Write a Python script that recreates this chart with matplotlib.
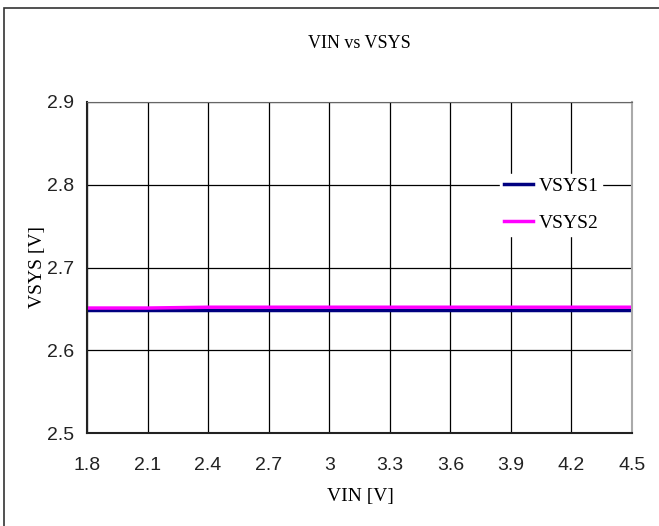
import matplotlib.pyplot as plt
from matplotlib.patches import Rectangle

# data
vin = [1.8, 2.1, 2.4, 2.7, 3.0, 3.3, 3.6, 3.9, 4.2, 4.5]
vsys1 = [2.649, 2.649, 2.649, 2.649, 2.649, 2.649, 2.649, 2.649, 2.649, 2.649]
vsys2 = [2.651, 2.651, 2.652, 2.652, 2.652, 2.652, 2.652, 2.652, 2.652, 2.652]
xticks = [1.8, 2.1, 2.4, 2.7, 3.0, 3.3, 3.6, 3.9, 4.2, 4.5]
xtick_labels = ['1.8', '2.1', '2.4', '2.7', '3', '3.3', '3.6', '3.9', '4.2', '4.5']
yticks = [2.5, 2.6, 2.7, 2.8, 2.9]


def drawFig():
  fig = plt.figure(figsize=(6.59, 5.26), dpi=100)
  ax = fig.add_axes([87/659, 1-433/526, (632-87)/659, (433-102)/526])

  # outer frame (only left and top edges show in the picture)
  fig.patches.append(Rectangle((4/659, -0.1), 1.2, 1-8/526+0.1, transform=fig.transFigure,
                               fill=False, edgecolor='#333333', linewidth=1.2))

  ax.plot(vin, vsys1, color='#000080', linewidth=2.5, label='VSYS1')
  ax.plot(vin, vsys2, color='#ff00ff', linewidth=2.5, label='VSYS2')

  ax.set_xlim(1.8, 4.5)
  ax.set_ylim(2.5, 2.9)
  ax.set_xticks(xticks)
  ax.set_xticklabels(xtick_labels)
  ax.set_yticks(yticks)
  ax.set_yticklabels(['%.1f' % v for v in yticks])
  ax.tick_params(length=0, labelsize=14)
  ax.tick_params(axis='x', pad=17)
  ax.tick_params(axis='y', pad=9)
  for lab in ax.get_xticklabels() + ax.get_yticklabels():
    lab.set_fontfamily('Liberation Sans')
    lab.set_color('#222222')
  ax.grid(True, color='black', linewidth=0.9)
  ax.set_axisbelow(True)
  for s in ['left', 'bottom']:
    ax.spines[s].set_color('#222222')
    ax.spines[s].set_linewidth(1.5)
  ax.spines['top'].set_color('#666666')
  ax.spines['right'].set_color('#aaaaaa')
  ax.spines['right'].set_linewidth(1.5)

  ax.set_xlabel('VIN [V]', fontfamily='Liberation Serif', fontsize=14)
  ax.set_ylabel('VSYS [V]', fontfamily='Liberation Serif', fontsize=14)
  ax.xaxis.set_label_coords((360-87)/(632-87), -(488-433)/(433-102))
  ax.yaxis.set_label_coords(-(87-46)/(632-87), 0.5)
  fig.text((87+632)/2/659, 1-43/526, 'VIN vs VSYS', ha='center', va='center',
           fontfamily='Liberation Serif', fontsize=13)

  leg = ax.legend(loc='upper left', bbox_to_anchor=(490/659, 1-164/526),
                  bbox_transform=fig.transFigure, frameon=True, fancybox=False,
                  edgecolor='white', facecolor='white', framealpha=1,
                  handlelength=1.5, handletextpad=0.3, labelspacing=1.0,
                  borderpad=0.2, prop={'family': 'Liberation Serif', 'size': 14})

  fig.savefig('out.png', dpi=100)


def main():
  drawFig()


if __name__ == "__main__":
  main()
